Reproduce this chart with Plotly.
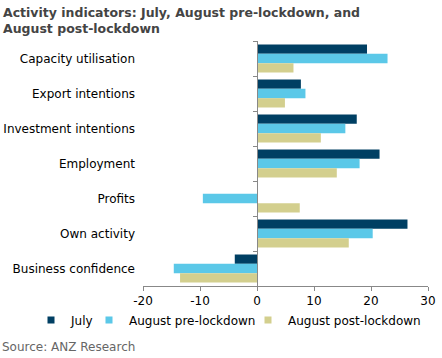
import plotly.graph_objects as go

categories = ["Capacity utilisation", "Export intentions", "Investment intentions",
              "Employment", "Profits", "Own activity", "Business confidence"]
july = [19.3, 7.7, 17.5, 21.5, 0.0, 26.4, -3.9]
aug_pre = [22.9, 8.5, 15.5, 18.0, -9.5, 20.3, -14.6]
aug_post = [6.4, 4.9, 11.2, 14.0, 7.5, 16.1, -13.5]
series_names = ["July", "August pre-lockdown", "August post-lockdown"]
colors = ["#003f63", "#5bc8e8", "#d3cf8e"]
x_ticks = [-20, -10, 0, 10, 20, 30]
x_tick_labels = ["-20", "-10", "0", "10", "20", "30"]

FONT = "DejaVu Sans"
W, H = 442, 358
L, R, T, B = 143, 14, 41, 72
PW, PH = W - L - R, H - T - B


def px_x(px):
    return (px - L) / PW


def px_y(py):
    return (H - B - py) / PH


fig = go.Figure()
for name, vals, col in zip(series_names, [july, aug_pre, aug_post], colors):
    fig.add_trace(go.Bar(y=categories, x=vals, name=name, orientation="h",
                         marker=dict(color=col, line=dict(width=0)), showlegend=False))

# legend entries with small square keys, one legend each to control spacing
legend_pos = [31, 89, 248]
for i, (name, col, lx) in enumerate(zip(series_names, colors, legend_pos)):
    lid = "legend" if i == 0 else f"legend{i + 1}"
    fig.add_trace(go.Scatter(x=[None], y=[None], mode="markers", name=name,
                             marker=dict(symbol="square", size=7, color=col),
                             showlegend=True, legend=lid, hoverinfo="skip"))
    fig.update_layout({lid: dict(orientation="h", x=px_x(lx), xanchor="left",
                                 y=px_y(320), yanchor="middle",
                                 font=dict(size=12, color="#000000"), itemwidth=30,
                                 bgcolor="rgba(0,0,0,0)")})

# invisible helper trace so the category axis at x=0 is drawn
fig.add_trace(go.Scatter(x=[0] * len(categories), y=categories, mode="markers",
                         marker=dict(opacity=0), showlegend=False, hoverinfo="skip",
                         yaxis="y2"))

rng = [len(categories) - 0.5, -0.5]
x_min, x_max = -20, 30
fig.update_layout(
    width=W, height=H,
    margin=dict(l=L, r=R, t=T, b=B, autoexpand=False),
    paper_bgcolor="white", plot_bgcolor="white",
    font=dict(family=FONT, size=12, color="#000000"),
    barmode="group", bargap=0.2, bargroupgap=0,
    showlegend=True,
    xaxis=dict(range=[x_min, x_max], tickvals=x_ticks, ticktext=x_tick_labels,
               showgrid=False, zeroline=False,
               showline=True, linecolor="#888888", linewidth=1,
               ticks="outside", ticklen=4, tickcolor="#888888",
               tickfont=dict(size=12, color="#000000"), fixedrange=True),
    yaxis=dict(type="category", categoryorder="array", categoryarray=categories,
               range=rng, showline=False, showgrid=False, ticks="",
               tickfont=dict(size=12, color="#000000"), ticklabelstandoff=7),
    yaxis2=dict(type="category", categoryorder="array", categoryarray=categories,
                range=rng, overlaying="y", anchor="free",
                position=(0 - x_min) / (x_max - x_min),
                showline=True, linecolor="#888888", linewidth=1,
                ticks="outside", tickson="boundaries", ticklen=4, tickcolor="#888888",
                showticklabels=False, showgrid=False),
    annotations=[
        dict(text="<b>Activity indicators: July, August pre-lockdown, and<br>August post-lockdown</b>",
             xref="paper", yref="paper", x=px_x(1), y=px_y(3), xanchor="left", yanchor="top",
             align="left", showarrow=False,
             font=dict(size=12.5, color="#444444")),
        dict(text="Source: ANZ Research", xref="paper", yref="paper",
             x=px_x(0), y=px_y(347), xanchor="left", yanchor="middle",
             showarrow=False, font=dict(size=12, color="#666666")),
    ],
)

fig.write_html("out.html", config={"displayModeBar": False},
               post_script="document.body.style.margin='0';document.body.style.overflow='hidden';")
